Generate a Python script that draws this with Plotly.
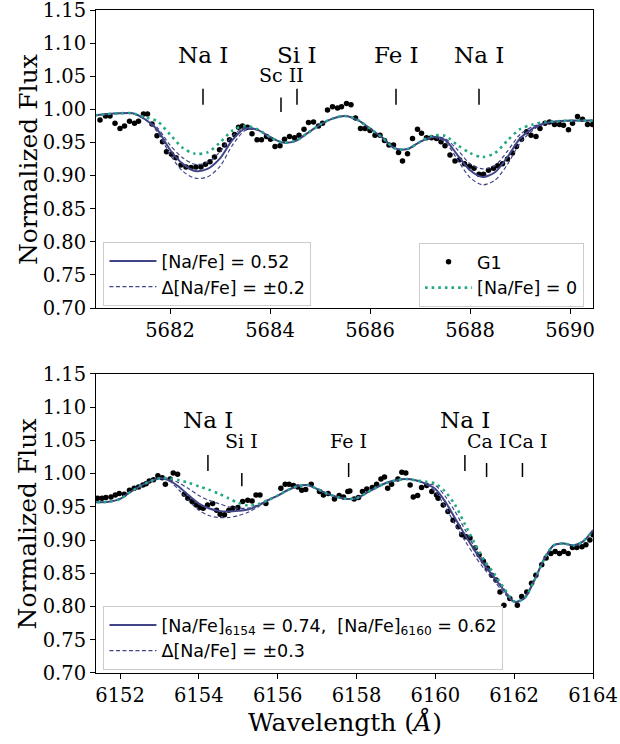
import plotly.graph_objects as go

# ---------------- Na 5682/5688 window ----------------
top_model_wave = [5680.50, 5680.75, 5681.00, 5681.25, 5681.50, 5681.75, 5682.00, 5682.25,
                  5682.50, 5682.75, 5683.00, 5683.25, 5683.50, 5683.75, 5684.00, 5684.25,
                  5684.50, 5684.75, 5685.00, 5685.25, 5685.50, 5685.75, 5686.00, 5686.25,
                  5686.50, 5686.75, 5687.00, 5687.25, 5687.50, 5687.75, 5688.00, 5688.25,
                  5688.50, 5688.75, 5689.00, 5689.25, 5689.50, 5689.75, 5690.00, 5690.25,
                  5690.50]
top_best = [0.991, 0.993, 0.994, 0.994, 0.985, 0.969, 0.939, 0.918,
            0.907, 0.910, 0.926, 0.954, 0.971, 0.969, 0.958, 0.950,
            0.952, 0.964, 0.977, 0.986, 0.990, 0.984, 0.971, 0.957,
            0.941, 0.940, 0.951, 0.958, 0.954, 0.931, 0.908, 0.898,
            0.905, 0.928, 0.956, 0.971, 0.979, 0.982, 0.983, 0.983,
            0.983]
top_minus = [0.991, 0.993, 0.994, 0.994, 0.985, 0.972, 0.946, 0.927,
             0.917, 0.920, 0.936, 0.960, 0.973, 0.969, 0.958, 0.950,
             0.952, 0.964, 0.977, 0.986, 0.990, 0.984, 0.971, 0.957,
             0.941, 0.940, 0.951, 0.958, 0.956, 0.939, 0.918, 0.910,
             0.915, 0.937, 0.962, 0.974, 0.979, 0.982, 0.983, 0.983,
             0.983]
top_plus = [0.991, 0.993, 0.994, 0.994, 0.985, 0.966, 0.932, 0.907,
            0.896, 0.898, 0.914, 0.946, 0.968, 0.969, 0.958, 0.950,
            0.952, 0.964, 0.977, 0.986, 0.990, 0.984, 0.971, 0.957,
            0.941, 0.940, 0.951, 0.958, 0.951, 0.924, 0.897, 0.886,
            0.893, 0.917, 0.949, 0.968, 0.979, 0.982, 0.983, 0.983,
            0.983]
top_solar = [0.991, 0.993, 0.994, 0.994, 0.988, 0.982, 0.962, 0.942,
             0.933, 0.935, 0.950, 0.968, 0.975, 0.970, 0.958, 0.950,
             0.952, 0.964, 0.977, 0.986, 0.990, 0.984, 0.971, 0.957,
             0.941, 0.940, 0.951, 0.960, 0.960, 0.946, 0.934, 0.928,
             0.934, 0.953, 0.970, 0.977, 0.981, 0.982, 0.983, 0.983,
             0.983]

top_obs_wave = [5680.60, 5680.71, 5680.80, 5680.90, 5681.00, 5681.09, 5681.19, 5681.29,
                5681.37, 5681.47, 5681.55, 5681.64, 5681.74, 5681.85, 5681.93, 5682.03,
                5682.12, 5682.22, 5682.32, 5682.42, 5682.52, 5682.62, 5682.71, 5682.80,
                5682.89, 5682.99, 5683.09, 5683.19, 5683.29, 5683.37, 5683.45, 5683.55,
                5683.64, 5683.74, 5683.83, 5683.93, 5684.01, 5684.10, 5684.20, 5684.29,
                5684.39, 5684.49, 5684.58, 5684.68, 5684.77, 5684.87, 5684.97, 5685.05,
                5685.15, 5685.25, 5685.35, 5685.43, 5685.53, 5685.62, 5685.71, 5685.81,
                5685.90, 5686.00, 5686.10, 5686.20, 5686.29, 5686.38, 5686.47, 5686.57,
                5686.65, 5686.75, 5686.85, 5686.95, 5687.03, 5687.13, 5687.23, 5687.33,
                5687.42, 5687.50, 5687.60, 5687.70, 5687.79, 5687.89, 5687.99, 5688.08,
                5688.18, 5688.27, 5688.37, 5688.47, 5688.55, 5688.65, 5688.75, 5688.85,
                5688.93, 5689.03, 5689.13, 5689.22, 5689.32, 5689.40, 5689.50, 5689.59,
                5689.69, 5689.79, 5689.87, 5689.97, 5690.05, 5690.15, 5690.25, 5690.35,
                5690.45]
top_obs_flux = [0.984, 0.990, 0.990, 0.979, 0.971, 0.975, 0.982, 0.979,
                0.982, 0.993, 0.993, 0.978, 0.960, 0.951, 0.936, 0.932,
                0.927, 0.916, 0.913, 0.912, 0.913, 0.913, 0.917, 0.921,
                0.928, 0.939, 0.946, 0.954, 0.962, 0.973, 0.975, 0.973,
                0.963, 0.954, 0.954, 0.959, 0.955, 0.944, 0.945, 0.955,
                0.959, 0.957, 0.961, 0.970, 0.980, 0.981, 0.975, 0.979,
                0.999, 1.004, 1.002, 1.004, 1.009, 1.007, 0.987, 0.971,
                0.971, 0.968, 0.961, 0.961, 0.953, 0.946, 0.946, 0.935,
                0.922, 0.933, 0.956, 0.970, 0.964, 0.957, 0.957, 0.956,
                0.951, 0.945, 0.931, 0.922, 0.924, 0.918, 0.914, 0.911,
                0.902, 0.902, 0.908, 0.911, 0.915, 0.918, 0.925, 0.934,
                0.944, 0.955, 0.966, 0.961, 0.959, 0.971, 0.979, 0.981,
                0.977, 0.977, 0.976, 0.969, 0.979, 0.989, 0.985, 0.977,
                0.977]

top_line_labels = ["Na I", "Sc II", "Si I", "Fe I", "Na I"]
top_line_wave = [5682.66, 5684.22, 5684.54, 5686.52, 5688.18]
top_label_big = [True, False, True, True, True]

# ---------------- Na 6154/6160 window ----------------
bot_model_wave = [6151.25, 6151.50, 6151.75, 6152.00, 6152.25, 6152.50, 6152.75, 6153.00,
                  6153.25, 6153.50, 6153.75, 6154.00, 6154.25, 6154.50, 6154.75, 6155.00,
                  6155.25, 6155.50, 6155.75, 6156.00, 6156.25, 6156.50, 6156.75, 6157.00,
                  6157.25, 6157.50, 6157.75, 6158.00, 6158.25, 6158.50, 6158.75, 6159.00,
                  6159.25, 6159.50, 6159.75, 6160.00, 6160.25, 6160.50, 6160.75, 6161.00,
                  6161.25, 6161.50, 6161.75, 6162.00, 6162.25, 6162.50, 6162.75, 6163.00,
                  6163.25, 6163.50, 6163.75, 6164.00]
bot_best = [0.957, 0.957, 0.958, 0.962, 0.972, 0.981, 0.988, 0.993,
            0.990, 0.980, 0.967, 0.955, 0.948, 0.944, 0.943, 0.944,
            0.946, 0.952, 0.960, 0.967, 0.975, 0.981, 0.983, 0.977,
            0.970, 0.965, 0.962, 0.963, 0.971, 0.979, 0.986, 0.990,
            0.992, 0.990, 0.985, 0.977, 0.958, 0.933, 0.908, 0.884,
            0.862, 0.843, 0.824, 0.807, 0.812, 0.838, 0.870, 0.892,
            0.895, 0.892, 0.898, 0.915]
bot_minus = [0.957, 0.957, 0.958, 0.962, 0.972, 0.981, 0.988, 0.993,
             0.992, 0.986, 0.977, 0.967, 0.960, 0.955, 0.950, 0.948,
             0.948, 0.953, 0.960, 0.967, 0.975, 0.981, 0.983, 0.977,
             0.970, 0.965, 0.962, 0.963, 0.971, 0.979, 0.986, 0.990,
             0.992, 0.990, 0.985, 0.982, 0.966, 0.943, 0.916, 0.889,
             0.866, 0.846, 0.826, 0.807, 0.812, 0.838, 0.870, 0.892,
             0.895, 0.892, 0.898, 0.915]
bot_plus = [0.957, 0.957, 0.958, 0.962, 0.972, 0.981, 0.988, 0.993,
            0.989, 0.975, 0.959, 0.945, 0.937, 0.934, 0.934, 0.937,
            0.942, 0.950, 0.960, 0.967, 0.975, 0.981, 0.983, 0.977,
            0.970, 0.965, 0.962, 0.963, 0.971, 0.979, 0.986, 0.990,
            0.992, 0.990, 0.985, 0.973, 0.950, 0.924, 0.899, 0.876,
            0.856, 0.838, 0.820, 0.807, 0.812, 0.838, 0.870, 0.892,
            0.895, 0.892, 0.898, 0.915]
bot_solar = [0.957, 0.957, 0.958, 0.962, 0.972, 0.981, 0.988, 0.993,
             0.993, 0.990, 0.986, 0.981, 0.976, 0.970, 0.963, 0.956,
             0.952, 0.954, 0.960, 0.967, 0.975, 0.981, 0.983, 0.977,
             0.970, 0.965, 0.962, 0.963, 0.971, 0.979, 0.986, 0.990,
             0.992, 0.990, 0.988, 0.985, 0.973, 0.953, 0.924, 0.895,
             0.869, 0.849, 0.827, 0.808, 0.812, 0.838, 0.870, 0.892,
             0.895, 0.892, 0.898, 0.915]

bot_obs_wave = [6151.43, 6151.54, 6151.64, 6151.77, 6151.88, 6151.98, 6152.11, 6152.24,
                6152.36, 6152.47, 6152.58, 6152.66, 6152.74, 6152.85, 6152.96, 6153.07,
                6153.15, 6153.27, 6153.35, 6153.46, 6153.63, 6153.72, 6153.83, 6153.93,
                6154.03, 6154.11, 6154.22, 6154.35, 6154.45, 6154.54, 6154.65, 6154.76,
                6154.86, 6154.99, 6155.11, 6155.24, 6155.35, 6155.45, 6155.55, 6155.70,
                6156.08, 6156.19, 6156.29, 6156.40, 6156.51, 6156.61, 6156.71, 6156.85,
                6157.06, 6157.16, 6157.28, 6157.44, 6157.56, 6157.67, 6157.78, 6157.83,
                6157.94, 6158.05, 6158.15, 6158.26, 6158.40, 6158.51, 6158.62, 6158.71,
                6158.79, 6158.89, 6159.05, 6159.15, 6159.25, 6159.36, 6159.44, 6159.55,
                6159.65, 6159.78, 6159.91, 6160.03, 6160.07, 6160.20, 6160.32, 6160.45,
                6160.58, 6160.67, 6160.78, 6160.88, 6161.01, 6161.11, 6161.22, 6161.32,
                6161.43, 6161.54, 6161.64, 6161.74, 6161.89, 6162.08, 6162.19, 6162.32,
                6162.44, 6162.55, 6162.70, 6162.81, 6162.93, 6163.04, 6163.15, 6163.26,
                6163.37, 6163.48, 6163.59, 6163.72, 6163.82, 6163.92, 6164.00]
bot_obs_flux = [0.963, 0.963, 0.964, 0.965, 0.968, 0.970, 0.969, 0.975,
                0.978, 0.980, 0.983, 0.985, 0.989, 0.991, 0.997, 0.994,
                0.984, 0.992, 1.001, 0.999, 0.969, 0.963, 0.958, 0.953,
                0.949, 0.948, 0.953, 0.955, 0.945, 0.939, 0.938, 0.945,
                0.948, 0.949, 0.958, 0.960, 0.959, 0.968, 0.968, 0.955,
                0.978, 0.984, 0.984, 0.982, 0.980, 0.975, 0.976, 0.984,
                0.973, 0.968, 0.970, 0.962, 0.967, 0.965, 0.973, 0.974,
                0.962, 0.964, 0.973, 0.977, 0.979, 0.984, 0.992, 0.995,
                0.978, 0.984, 0.992, 1.002, 1.001, 0.983, 0.965, 0.967,
                0.979, 0.982, 0.973, 0.968, 0.963, 0.953, 0.943, 0.930,
                0.920, 0.908, 0.905, 0.903, 0.888, 0.878, 0.868, 0.858,
                0.847, 0.840, 0.822, 0.802, 0.812, 0.802, 0.815, 0.822,
                0.835, 0.847, 0.863, 0.873, 0.880, 0.883, 0.880, 0.883,
                0.880, 0.889, 0.889, 0.890, 0.893, 0.900, 0.908]

bot_line_labels = ["Na I", "Si I", "Fe I", "Na I", "Ca I", "Ca I"]
bot_line_wave = [6154.23, 6155.09, 6157.80, 6160.75, 6161.30, 6162.21]
bot_label_wave = [6154.23, 6155.09, 6157.80, 6160.75, 6161.30, 6162.34]
bot_label_big = [True, False, False, True, False, False]

# ---------------- styling ----------------
BEST = "#414487"
SOLAR = "#22a884"
SERIF = "DejaVu Serif"
SANS = "DejaVu Sans"

fig = go.Figure()


def add_panel(xa, ya, mwave, best, minus, plus, solar, owave, oflux, best_name,
              delta_name, best_legend, other_legend, show_other):
    fig.add_trace(go.Scatter(
        x=owave, y=oflux, mode="markers", xaxis=xa, yaxis=ya,
        marker=dict(color="black", size=5.5), name="G1",
        showlegend=show_other, legend=other_legend, legendgroup="obs" + xa))
    fig.add_trace(go.Scatter(
        x=mwave, y=best, mode="lines", xaxis=xa, yaxis=ya,
        line=dict(color=BEST, width=2, shape="spline", smoothing=0.8),
        name=best_name, legend=best_legend, legendgroup="best" + xa))
    fig.add_trace(go.Scatter(
        x=mwave, y=minus, mode="lines", xaxis=xa, yaxis=ya,
        line=dict(color=BEST, width=1.2, dash="4px,2.5px", shape="spline", smoothing=0.8),
        name=delta_name, legend=best_legend, legendgroup="delta" + xa))
    fig.add_trace(go.Scatter(
        x=mwave, y=plus, mode="lines", xaxis=xa, yaxis=ya,
        line=dict(color=BEST, width=1.2, dash="4px,2.5px", shape="spline", smoothing=0.8),
        name=delta_name, showlegend=False, legend=best_legend, legendgroup="delta" + xa))
    fig.add_trace(go.Scatter(
        x=mwave, y=solar, mode="lines", xaxis=xa, yaxis=ya,
        line=dict(color=SOLAR, width=2.6, dash="2.6px,4px", shape="spline", smoothing=0.8),
        name="[Na/Fe] = 0", showlegend=show_other, legend=other_legend,
        legendgroup="solar" + xa))


add_panel("x", "y", top_model_wave, top_best, top_minus, top_plus, top_solar,
          top_obs_wave, top_obs_flux, "[Na/Fe] = 0.52", "Δ[Na/Fe] = ±0.2",
          "legend", "legend2", True)
add_panel("x2", "y2", bot_model_wave, bot_best, bot_minus, bot_plus, bot_solar,
          bot_obs_wave, bot_obs_flux,
          "[Na/Fe]<sub>6154</sub> = 0.74,  [Na/Fe]<sub>6160</sub> = 0.62",
          "Δ[Na/Fe] = ±0.3", "legend3", "legend3", False)

annotations = []
shapes = []

# line identifications, top window
for lab, w, big in zip(top_line_labels, top_line_wave, top_label_big):
    annotations.append(dict(x=w, y=1.082 if big else 1.052, xref="x", yref="y",
                            text=lab, showarrow=False, xanchor="center", yanchor="middle",
                            font=dict(family=SERIF, size=23 if big else 19, color="black")))
    y0, y1 = (1.007, 1.031) if big else (0.996, 1.018)
    shapes.append(dict(type="line", xref="x", yref="y", x0=w, x1=w, y0=y0, y1=y1,
                       line=dict(color="black", width=1.5)))

# line identifications, bottom window
bot_tick_span = {("Na I", True): (1.004, 1.028), ("Si I", False): (0.981, 1.001),
                 ("Fe I", False): (0.995, 1.016), ("Ca I", False): (0.995, 1.016)}
for lab, w, wl, big in zip(bot_line_labels, bot_line_wave, bot_label_wave, bot_label_big):
    annotations.append(dict(x=wl, y=1.081 if big else 1.049, xref="x2", yref="y2",
                            text=lab, showarrow=False, xanchor="center", yanchor="middle",
                            font=dict(family=SERIF, size=23 if big else 19, color="black")))
    y0, y1 = bot_tick_span[(lab, big)]
    shapes.append(dict(type="line", xref="x2", yref="y2", x0=w, x1=w, y0=y0, y1=y1,
                       line=dict(color="black", width=1.5)))

# axis titles
for py in (0.775, 0.2255):
    annotations.append(dict(x=-0.137, y=py, xref="paper", yref="paper",
                            xanchor="center", yanchor="middle",
                            text="Normalized Flux", textangle=-90, showarrow=False,
                            font=dict(family=SERIF, size=25, color="black")))
annotations.append(dict(x=0.5, y=-0.074, xref="paper", yref="paper",
                        xanchor="center", yanchor="middle",
                        text="Wavelength (<i>Å</i>)", showarrow=False,
                        font=dict(family=SERIF, size=25, color="black")))

axis_common = dict(showgrid=False, zeroline=False, showline=True, linecolor="black",
                   linewidth=1, mirror=True, ticks="outside", ticklen=5, tickwidth=1,
                   tickcolor="black", automargin=False, ticklabeloverflow="allow",
                   tickfont=dict(family=SERIF, size=19.5, color="black"))

legend_common = dict(bgcolor="rgba(255,255,255,0.85)", bordercolor="#cccccc",
                     borderwidth=1, font=dict(family=SANS, size=17.5, color="black"),
                     tracegroupgap=0, itemwidth=47, traceorder="grouped")

fig.update_layout(
    width=620, height=744,
    margin=dict(l=96, r=27, t=10, b=71, autoexpand=False),
    plot_bgcolor="white", paper_bgcolor="white",
    xaxis=dict(domain=[0, 1], anchor="y", range=[5680.52, 5690.46],
               tickvals=[5682, 5684, 5686, 5688, 5690], **axis_common),
    yaxis=dict(domain=[0.5505, 1], anchor="x", range=[0.70, 1.15],
               tickvals=[0.70, 0.75, 0.80, 0.85, 0.90, 0.95, 1.00, 1.05, 1.10, 1.15],
               tickformat=".2f", **axis_common),
    xaxis2=dict(domain=[0, 1], anchor="y2", range=[6151.39, 6164.0],
                tickvals=[6152, 6154, 6156, 6158, 6160, 6162, 6164], **axis_common),
    yaxis2=dict(domain=[0, 0.451], anchor="x2", range=[0.70, 1.15],
                tickvals=[0.70, 0.75, 0.80, 0.85, 0.90, 0.95, 1.00, 1.05, 1.10, 1.15],
                tickformat=".2f", **axis_common),
    legend=dict(x=0.015, y=0.650, xanchor="left", yanchor="top", **legend_common),
    legend2=dict(x=0.982, y=0.6486, xanchor="right", yanchor="top", **legend_common),
    legend3=dict(x=0.015, y=0.101, xanchor="left", yanchor="top", **legend_common),
    annotations=annotations,
    shapes=shapes,
)

fig.write_html("out.html")
